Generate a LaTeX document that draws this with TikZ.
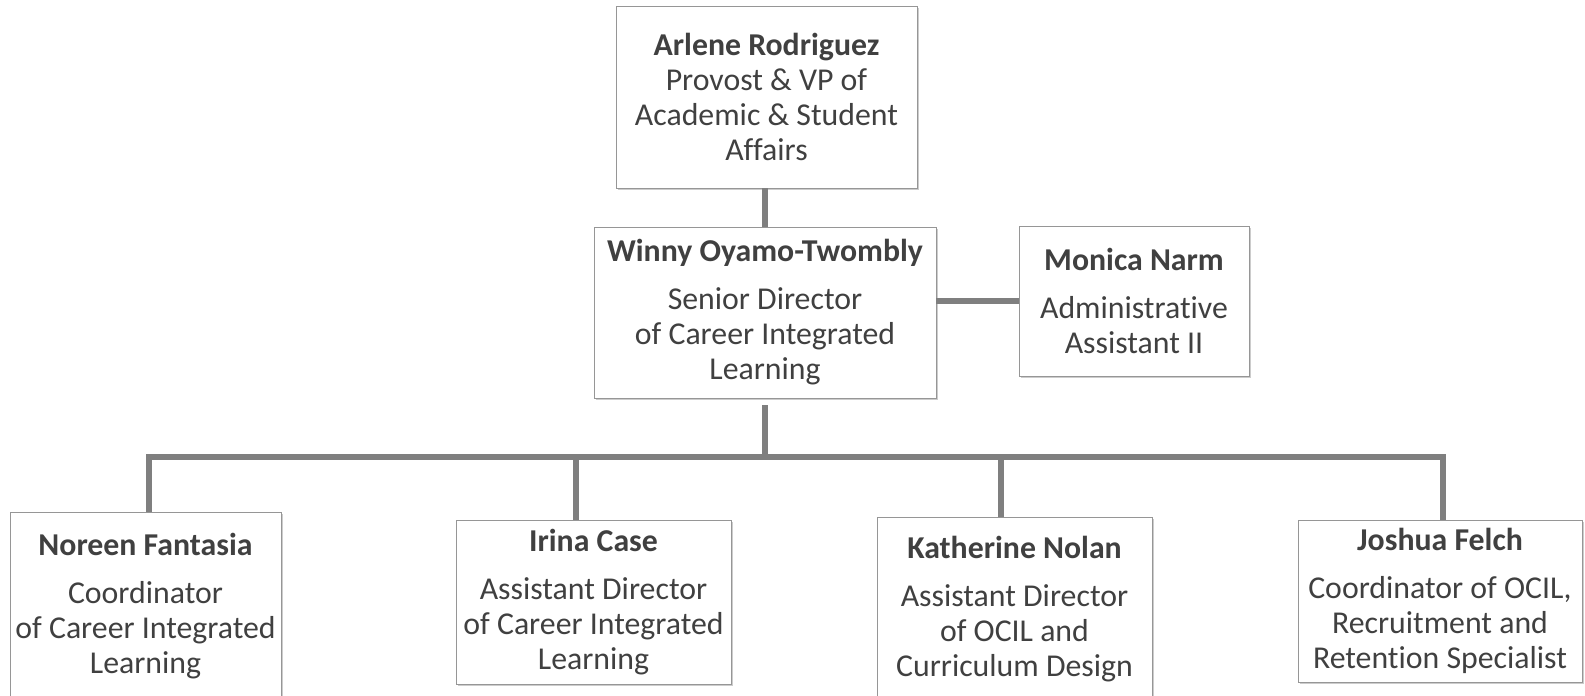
\documentclass[tikz,border=0pt]{standalone}
\usepackage{fontspec}
\setmainfont{Carlito}[Ligatures=NoCommon]
\usetikzlibrary{shadows}
\definecolor{txtgray}{RGB}{64,64,64}
\definecolor{linegray}{RGB}{127,127,127}
\definecolor{boxgray}{RGB}{150,150,150}
\tikzset{
  org_box/.style = {rectangle, draw=boxgray, fill=white, line width=0.5pt,
    align=center, inner sep=0pt, outer sep=0pt, text=txtgray,
    font=\fontsize{15.9}{17.5}\selectfont,
    drop shadow={shadow xshift=0.8pt, shadow yshift=-0.8pt,
      fill=black!40, opacity=0.5}},% one person
  org_line/.style = {draw=linegray, line width=2.6pt}% reporting line
}
\newcommand{\orgname}[1]{{\bfseries #1}}

\begin{document}
\begin{tikzpicture}[x=0.5pt,y=-0.5pt]
\useasboundingbox (0,0) rectangle (1585,696);
% top level
\node [org_box, minimum width=150.5pt, minimum height=91pt] (arlene) at (766.5,97)
  {\orgname{Arlene Rodriguez}\\Provost \& VP of\\Academic \& Student\\Affairs};
\node [org_box, minimum width=171pt, minimum height=85.5pt] (winny) at (765,312.5)
  {\orgname{Winny Oyamo-Twombly}\\[6.5pt]Senior Director\\of Career Integrated\\Learning};
\node [org_box, minimum width=115pt, minimum height=75pt] (monica) at (1134,301)
  {\orgname{Monica Narm}\\[6.5pt]Administrative\\Assistant II};
% staff row
\node [org_box, minimum width=135.5pt, minimum height=94pt] (noreen) at (145.5,606)
  {\orgname{Noreen Fantasia}\\[6.5pt]Coordinator\\of Career Integrated\\Learning};
\node [org_box, minimum width=137.5pt, minimum height=82pt] (irina) at (593.5,602)
  {\orgname{Irina Case}\\[6.5pt]Assistant Director\\of Career Integrated\\Learning};
\node [org_box, minimum width=137.5pt, minimum height=92pt] (katherine) at (1014.5,609)
  {\orgname{Katherine Nolan}\\[6.5pt]Assistant Director\\of OCIL and\\Curriculum Design};
\node [org_box, minimum width=142pt, minimum height=81pt] (joshua) at (1440,601)
  {\orgname{Joshua Felch}\\[6.5pt]Coordinator of OCIL,\\Recruitment and\\Retention Specialist};
% bus points
\coordinate (bus) at (765,457);
\coordinate (d1) at (149,457);
\coordinate (d2) at (576,457);
\coordinate (d3) at (1001,457);
\coordinate (d4) at (1443,457);
% lines
\draw [org_line] (arlene.south -| winny.north) -- (winny.north);
\draw [org_line] (monica.west) -- (monica.west -| winny.east);
\draw [org_line] ([yshift=-3.5pt]winny.south) -- (bus);
\draw [org_line] (d1 |- noreen.north) -- (d1) -- (d4) -- (d4 |- joshua.north);
\draw [org_line] (d2) -- (d2 |- irina.north);
\draw [org_line] (d3) -- (d3 |- katherine.north);
\end{tikzpicture}
\end{document}
